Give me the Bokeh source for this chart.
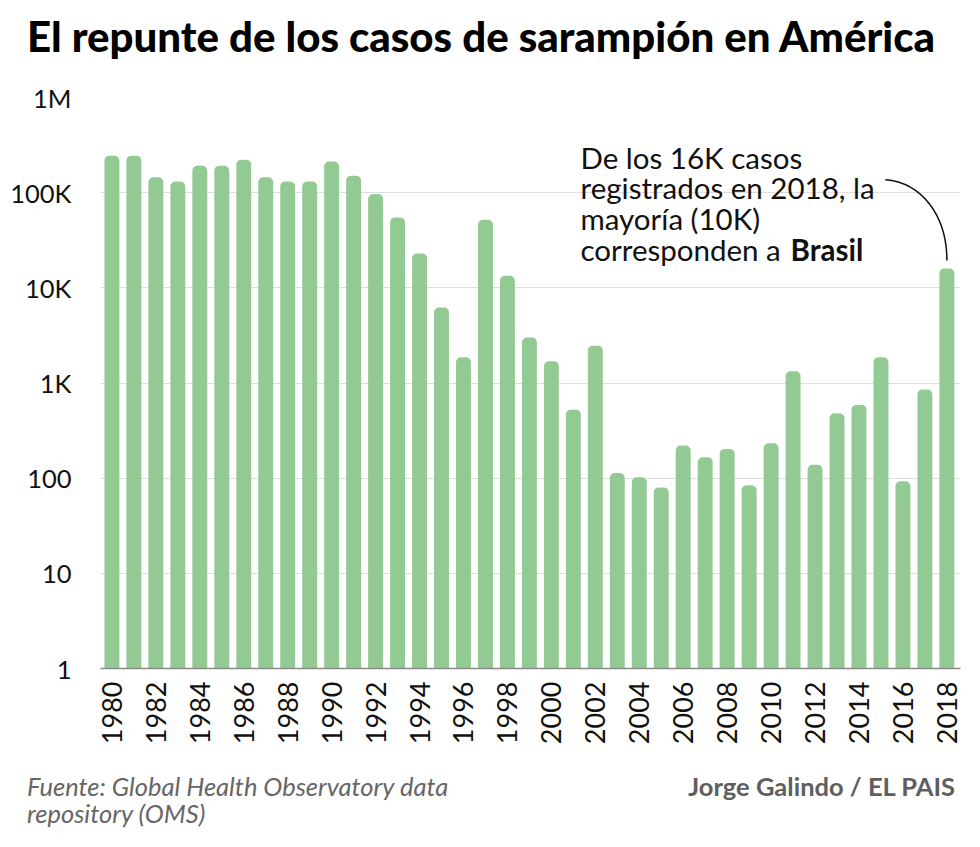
import numpy as np
from bokeh.plotting import figure
from bokeh.layouts import column
from bokeh.models import Range1d, FixedTicker, Label, Div
from bokeh.embed import file_html
from bokeh.resources import INLINE

years = list(range(1980, 2019))
cases = [245000, 245000, 145000, 131000, 192000, 192000, 222000, 145000, 131000, 131000,
         213000, 151000, 97000, 55000, 23000, 6200, 1860, 52000, 13400, 3000,
         1690, 525, 2470, 113, 102, 80, 220, 166, 203, 84,
         233, 1330, 138, 481, 589, 1860, 93, 852, 16000]

y_ticks = [1, 10, 100, 1000, 10000, 100000, 1000000]
y_tick_labels = ["1", "10", "100", "1K", "10K", "100K", "1M"]
x_ticks = list(range(1980, 2019, 2))
x_tick_labels = [str(y) for y in x_ticks]

title_text = "El repunte de los casos de sarampión en América"
note_lines = ["De los 16K casos", "registrados en 2018, la", "mayoría (10K)", "corresponden a "]
note_bold = "Brasil"
source_lines = ["Fuente: Global Health Observatory data", "repository (OMS)"]
credit = "Jorge Galindo / EL PAIS"

BAR = "#93ca93"
FONT = "Lato"
W = 964

# header
head = Div(
    text=(f'<div style="padding:15px 0 0 27px; font-family:Lato; font-weight:900; '
          f'font-size:42px; line-height:42px; color:#000; white-space:nowrap;">{title_text}</div>'),
    width=W, height=70, margin=0)

# main chart
p = figure(width=W, height=700, y_axis_type="log",
           x_range=Range1d(1979.48, 2018.62), y_range=Range1d(1, 1e6),
           output_backend="svg", toolbar_location=None,
           min_border_left=100, min_border_right=4, min_border_top=27, min_border_bottom=102)
p.outline_line_color = None

p.vbar(x=years, top=cases, bottom=1, width=0.68, fill_color=BAR, line_color=None,
       border_radius=(5, 5, 0, 0))

p.yaxis.ticker = FixedTicker(ticks=y_ticks)
p.yaxis.major_label_overrides = {t: l for t, l in zip(y_ticks, y_tick_labels)}
p.yaxis.axis_line_color = None
p.yaxis.major_tick_line_color = None
p.yaxis.minor_tick_line_color = None
p.yaxis.major_tick_out = 0
p.yaxis.major_label_standoff = 29
p.yaxis.major_label_text_font = FONT
p.yaxis.major_label_text_font_size = "25.5px"
p.yaxis.major_label_text_color = "#111111"

p.xaxis.ticker = FixedTicker(ticks=x_ticks)
p.xaxis.major_label_overrides = {t: l for t, l in zip(x_ticks, x_tick_labels)}
p.xaxis.major_label_orientation = np.pi / 2
p.xaxis.axis_line_color = "#8a8a8a"
p.xaxis.axis_line_width = 1.5
p.xaxis.major_tick_line_color = None
p.xaxis.minor_tick_line_color = None
p.xaxis.major_tick_out = 0
p.xaxis.major_label_standoff = 13
p.xaxis.major_label_text_font = FONT
p.xaxis.major_label_text_font_size = "27px"
p.xaxis.major_label_text_color = "#111111"

p.xgrid.visible = False
p.ygrid.ticker = FixedTicker(ticks=y_ticks)
p.ygrid.grid_line_color = "#dedede"
p.ygrid.minor_grid_line_color = None

baselines = [157, 187, 218, 249]
for line, b in zip(note_lines, baselines):
    p.add_layout(Label(x=480, y=668 - b, x_units="screen", y_units="screen",
                       text=line, text_font=FONT, text_font_size="29.5px",
                       text_color="#111111", text_baseline="alphabetic"))
p.add_layout(Label(x=690, y=668 - baselines[3], x_units="screen", y_units="screen",
                   text=note_bold, text_font=FONT, text_font_style="bold", text_font_size="29.5px",
                   text_color="#111111", text_baseline="alphabetic"))

p.bezier(x0=[2015.2], y0=[137000], x1=[2018.0], y1=[19400],
         cx0=[2016.85], cy0=[128000], cx1=[2018.0], cy1=[57500],
         line_color="#111111", line_width=1.5)

# footer
foot = Div(
    text=('<div style="position:relative; width:964px; height:60px; font-family:Lato;">'
          '<div style="position:absolute; left:27px; top:3px; font-style:italic; font-size:25.5px; '
          f'line-height:27px; color:#666666; white-space:nowrap;">{source_lines[0]}<br>{source_lines[1]}</div>'
          '<div style="position:absolute; right:9px; top:3px; font-weight:bold; font-size:25.5px; '
          f'line-height:27px; color:#5e5e5e; white-space:nowrap;">{credit}</div>'
          '</div>'),
    width=W, height=60, margin=0)

layout = column(head, p, foot, spacing=0)
open("out.html", "w", encoding="utf-8").write(file_html(layout, INLINE))
